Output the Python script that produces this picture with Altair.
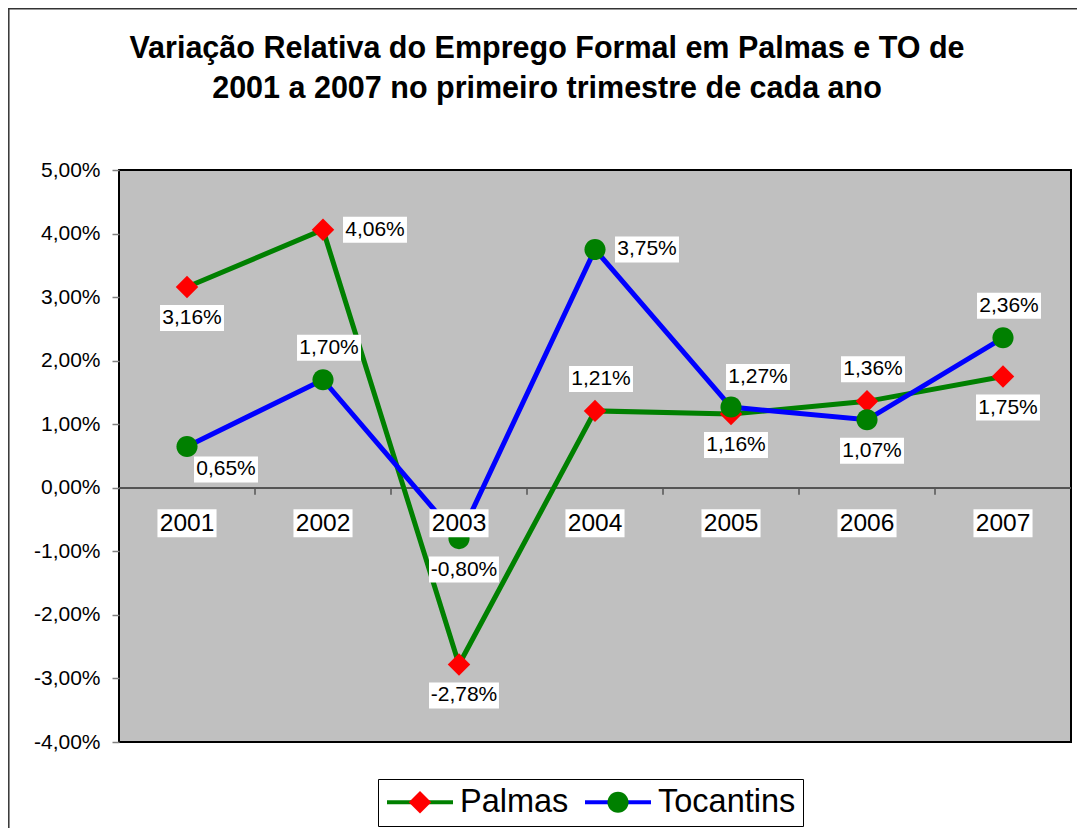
import altair as alt
import pandas as pd

# ---------------- data ----------------
years = ["2001", "2002", "2003", "2004", "2005", "2006", "2007"]
palmas = [3.16, 4.06, -2.78, 1.21, 1.16, 1.36, 1.75]
tocantins = [0.65, 1.70, -0.80, 3.75, 1.27, 1.07, 2.36]
series_names = ["Palmas", "Tocantins"]
y_ticks = [-4, -3, -2, -1, 0, 1, 2, 3, 4, 5]
title_lines = [
    "Variação Relativa do Emprego Formal em Palmas e TO de",
    "2001 a 2007 no primeiro trimestre de cada ano",
]
# Excel-style label placement for each point
palmas_label_pos = ["below", "right", "below", "above", "below", "above", "below"]
tocantins_label_pos = ["belowright", "above", "below", "right", "aboveright", "below", "above"]

# ---------------- styling ----------------
FONT = "Liberation Sans"
LABEL_OFFSETS = {
    "above": (6, -32),
    "below": (5, 31),
    "right": (52, 0),
    "belowright": (39, 23),
    "aboveright": (27, -30),
}
LINE_COLORS = ["#008000", "#0000FF"]
MARKER_COLORS = ["#FF0000", "#008000"]
DIAMOND = "M0,-0.34L0.34,0L0,0.34L-0.34,0Z"
CIRCLE = "M-0.32,0A0.32,0.32 0 1,0 0.32,0A0.32,0.32 0 1,0 -0.32,0Z"
BOX5 = "M-2.46,-1H2.46V1H-2.46Z"
BOX6 = "M-2.69,-1H2.69V1H-2.69Z"
CATBOX = "M-2.11,-1H2.11V1H-2.11Z"
SYM = 4356

W, H = 952, 572


def fmt(v):
    return f"{v:.2f}".replace(".", ",") + "%"


rows = []
for name, vals, poss in [("Palmas", palmas, palmas_label_pos),
                         ("Tocantins", tocantins, tocantins_label_pos)]:
    for yr, v, p in zip(years, vals, poss):
        rows.append({"year": yr, "serie": name, "serie_m": name, "value": v,
                     "label": fmt(v), "pos": p})
df = pd.DataFrame(rows)
cat_df = pd.DataFrame({"year": years})
tick_df = pd.DataFrame({"year": years[1:]})

X = alt.X("year:O", scale=alt.Scale(type="point", padding=0.5, domain=years), axis=None)
Y = alt.Y(
    "value:Q",
    scale=alt.Scale(domain=[-4, 5], nice=False, zero=False),
    axis=alt.Axis(
        values=y_ticks,
        labelExpr="(datum.value < 0 ? '-' : '') + replace(format(abs(datum.value), '.2f'), '.', ',') + '%'",
        grid=False, domain=False, title=None,
        tickColor="#808080", tickSize=7, tickWidth=1.5,
        labelPadding=12, labelFontSize=21, labelFont=FONT, labelColor="black",
    ),
)

legend_common = dict(
    orient="none", legendX=259, legendY=609, direction="horizontal", title=None,
    symbolSize=SYM, symbolStrokeWidth=4, labelFontSize=32.5, labelFont=FONT,
    labelColor="black", labelOffset=5, columnPadding=14, padding=7,
    clipHeight=32, labelLimit=400,
)
leg_lines = alt.Legend(symbolType="stroke", strokeColor="black", fillColor="white",
                       **legend_common)
leg_marks = alt.Legend(labelOpacity=0, symbolStrokeColor="transparent", symbolOpacity=1,
                       **legend_common)

base = alt.Chart(df)

zero_line = alt.Chart(cat_df).mark_rule(color="#555555", strokeWidth=1.5).encode(y=alt.datum(0))
ticks = alt.Chart(tick_df).mark_rule(color="#555555", strokeWidth=1.5, xOffset=-W / 14, y2Offset=7).encode(
    x=X, y=alt.datum(0), y2=alt.datum(0))

lines = base.mark_line(strokeWidth=5).encode(
    x=X, y=Y,
    color=alt.Color("serie:N", scale=alt.Scale(domain=series_names, range=LINE_COLORS), legend=leg_lines),
)
markers = base.mark_point(filled=True, size=SYM, opacity=1, strokeWidth=0).encode(
    x=X, y=Y,
    fill=alt.Fill("serie_m:N", scale=alt.Scale(range=MARKER_COLORS), legend=leg_marks),
    shape=alt.Shape("serie_m:N", scale=alt.Scale(range=[DIAMOND, CIRCLE]), legend=leg_marks),
)

label_layers = []
for pos, (dx, dy) in LABEL_OFFSETS.items():
    for wide in (False, True):
        cond = f"datum.pos == '{pos}' && length(datum.label) {'>' if wide else '<='} 5"
        sub = base.transform_filter(cond)
        label_layers.append(
            sub.mark_point(shape=BOX6 if wide else BOX5, size=676, filled=True, fill="white",
                           opacity=1, strokeWidth=0, xOffset=dx, yOffset=dy).encode(x=X, y=Y))
        label_layers.append(
            sub.mark_text(font=FONT, fontSize=21, color="black", align="center", baseline="middle",
                          dx=dx, dy=dy).encode(x=X, y=Y, text="label:N"))

cat_bg = alt.Chart(cat_df).mark_point(shape=CATBOX, size=784, filled=True, fill="white", opacity=1,
                                      strokeWidth=0, yOffset=35.5).encode(x=X, y=alt.datum(0))
cat_txt = alt.Chart(cat_df).mark_text(font=FONT, fontSize=24.5, color="black", align="center",
                                      baseline="middle", dy=36).encode(x=X, y=alt.datum(0), text="year:N")

frame_left = alt.Chart(cat_df.head(1)).mark_rule(color="#333333", strokeWidth=1.5).encode(
    x=alt.value(-110.2), y=alt.value(-162), y2=alt.value(H + 90))
frame_top = alt.Chart(cat_df.head(1)).mark_rule(color="#333333", strokeWidth=1.5).encode(
    x=alt.value(-111), x2=alt.value(W + 10), y=alt.value(-161.2))

chart = alt.layer(
    zero_line, ticks, lines, markers, *label_layers, cat_bg, cat_txt, frame_left, frame_top
).properties(
    width=W, height=H,
    title=alt.TitleParams(text=title_lines, fontSize=30.5, font=FONT, fontWeight="bold", color="black",
                          anchor="middle", frame="group", dx=-48, lineHeight=39.5,
                          baseline="alphabetic", offset=-121),
    autosize=alt.AutoSizeParams(type="none"),
    padding={"left": 111, "top": 162, "right": 6, "bottom": 86},
    background="white",
).configure_view(
    fill="#C0C0C0", stroke="black", strokeWidth=2
)

chart.save("out.html", embed_options={"renderer": "svg", "actions": False})
